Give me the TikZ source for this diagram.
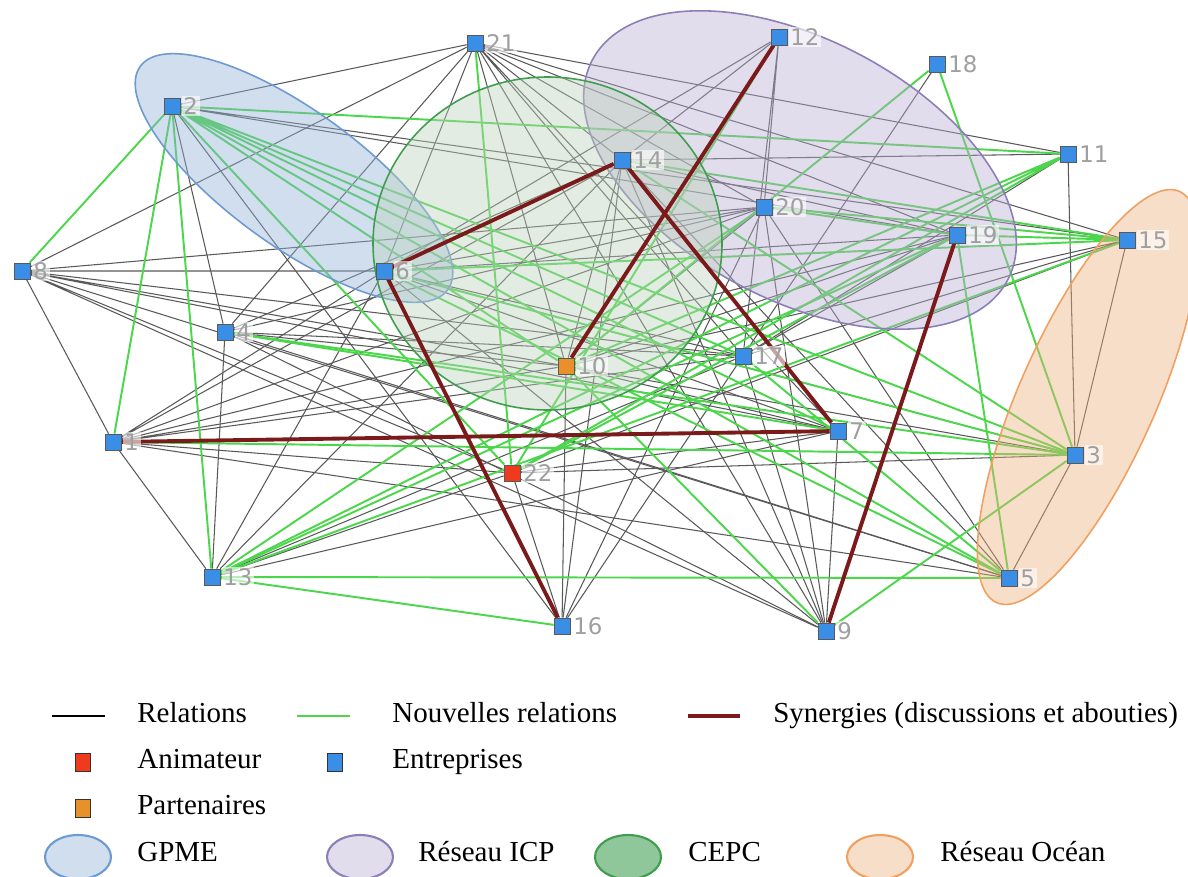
\documentclass[tikz,border=0pt]{standalone}
\usepackage{fontspec}
\setmainfont{Liberation Serif}
\newfontfamily\numfont{DejaVu Sans}

\definecolor{entblue}{HTML}{3A8EE6}
\definecolor{animred}{HTML}{F03A1E}
\definecolor{partorange}{HTML}{E8902A}
\definecolor{relgreen}{HTML}{4BD64B}
\definecolor{synred}{HTML}{7B1A1A}
\definecolor{gpmefill}{HTML}{91B1D7}
\definecolor{gpmeline}{HTML}{6D9BD1}
\definecolor{icpfill}{HTML}{B9ADD1}
\definecolor{icpline}{HTML}{8C7FB5}
\definecolor{cepcfill}{HTML}{BBD1B9}
\definecolor{cepcline}{HTML}{3E9E4E}
\definecolor{oceanfill}{HTML}{EDB17B}
\definecolor{oceanline}{HTML}{F0A060}
\definecolor{cepcleg}{HTML}{8FC79B}

\pgfdeclarelayer{edges}
\pgfdeclarelayer{zones}
\pgfdeclarelayer{syns}
\pgfsetlayers{edges,zones,syns,main}

\begin{document}
\begin{tikzpicture}[
  label distance=0.5pt,
  firm/.style={rectangle, draw=black!65, fill=#1, minimum size=0.32cm,
    inner sep=0pt},
  firm/.default=entblue,
  num/.style={font=\numfont\fontsize{13}{13}\selectfont, text=gray!75,
    fill=white, fill opacity=0.6, text opacity=1, inner sep=1pt},
  rel/.style={draw=black!65, line width=0.6pt},
  newrel/.style={draw=relgreen, line width=1.1pt},
  syn/.style={draw=synred, line width=2.2pt},
  zone/.style={draw=#1line, fill=#1fill, fill opacity=0.42, line width=0.9pt},
  legtext/.style={anchor=west, inner sep=0pt, text height=11pt, text depth=4pt,
    font=\fontsize{16.5}{19}\selectfont},
  legbox/.style={rectangle, draw=black!80, fill=#1, minimum width=0.3cm,
    minimum height=0.36cm, inner sep=0pt}
]
\useasboundingbox (0,0) rectangle (23.76,-17.52);

% Acteurs
\node[firm, label={[num]right:21}] (n21) at (9.50,-0.86) {};
\node[firm, label={[num]right:12}] (n12) at (15.58,-0.74) {};
\node[firm, label={[num]right:18}] (n18) at (18.74,-1.28) {};
\node[firm, label={[num]right:2}] (n2) at (3.44,-2.12) {};
\node[firm, label={[num]right:14}] (n14) at (12.44,-3.20) {};
\node[firm, label={[num]right:11}] (n11) at (21.36,-3.08) {};
\node[firm, label={[num]right:20}] (n20) at (15.28,-4.14) {};
\node[firm, label={[num]right:19}] (n19) at (19.14,-4.70) {};
\node[firm, label={[num]right:15}] (n15) at (22.54,-4.80) {};
\node[firm, label={[num]right:8}] (n8) at (0.44,-5.42) {};
\node[firm, label={[num]right:6}] (n6) at (7.68,-5.42) {};
\node[firm, label={[num]right:4}] (n4) at (4.50,-6.64) {};
\node[firm=partorange, label={[num]right:10}] (n10) at (11.32,-7.32) {};
\node[firm, label={[num]right:17}] (n17) at (14.86,-7.12) {};
\node[firm, label={[num]right:1}] (n1) at (2.26,-8.84) {};
\node[firm, label={[num]right:7}] (n7) at (16.76,-8.62) {};
\node[firm, label={[num]right:3}] (n3) at (21.50,-9.10) {};
\node[firm=animred, label={[num]right:22}] (n22) at (10.24,-9.46) {};
\node[firm, label={[num]right:13}] (n13) at (4.24,-11.54) {};
\node[firm, label={[num]right:5}] (n5) at (20.18,-11.56) {};
\node[firm, label={[num]right:16}] (n16) at (11.24,-12.52) {};
\node[firm, label={[num]right:9}] (n9) at (16.52,-12.62) {};

\begin{pgfonlayer}{edges}
% Relations
\draw[rel] (n21) -- (n2) (n21) -- (n8) (n21) -- (n4) (n21) -- (n6) (n21) -- (n14)
  (n21) -- (n20) (n21) -- (n19) (n21) -- (n15) (n21) -- (n11) (n21) -- (n17)
  (n21) -- (n10) (n21) -- (n7) (n21) -- (n9);
\draw[rel] (n2) -- (n19) (n2) -- (n15) (n2) -- (n4) (n2) -- (n16);
\draw[rel] (n8) -- (n1) (n8) -- (n6) (n8) -- (n10) (n8) -- (n17) (n8) -- (n7)
  (n8) -- (n22) (n8) -- (n3) (n8) -- (n9) (n8) -- (n5) (n8) -- (n20);
\draw[rel] (n1) -- (n13) (n1) -- (n6) (n1) -- (n14) (n1) -- (n20) (n1) -- (n19)
  (n1) -- (n10) (n1) -- (n17) (n1) -- (n22) (n1) -- (n5);
\draw[rel] (n4) -- (n13) (n4) -- (n14) (n4) -- (n20) (n4) -- (n10) (n4) -- (n17)
  (n4) -- (n9) (n4) -- (n5);
\draw[rel] (n13) -- (n6) (n13) -- (n14) (n13) -- (n17) (n13) -- (n7) (n13) -- (n22);
\draw[rel] (n6) -- (n12) (n6) -- (n20) (n6) -- (n19) (n6) -- (n17) (n6) -- (n7)
  (n6) -- (n9) (n6) -- (n3);
\draw[rel] (n14) -- (n12) (n14) -- (n11) (n14) -- (n10) (n14) -- (n9) (n14) -- (n5)
  (n14) -- (n16) (n14) -- (n19);
\draw[rel] (n12) -- (n20) (n12) -- (n17) (n18) -- (n17);
\draw[rel] (n20) -- (n9) (n20) -- (n5) (n20) -- (n16) (n20) -- (n10);
\draw[rel] (n19) -- (n10) (n19) -- (n17) (n19) -- (n22);
\draw[rel] (n11) -- (n3) (n11) -- (n17);
\draw[rel] (n15) -- (n3) (n15) -- (n17) (n15) -- (n10) (n15) -- (n22);
\draw[rel] (n3) -- (n5) (n3) -- (n22);
\draw[rel] (n9) -- (n7) (n9) -- (n17) (n16) -- (n10) (n16) -- (n22) (n16) -- (n17);
\draw[rel] (n10) -- (n7) (n22) -- (n7);

% Nouvelles relations
\draw[newrel] (n2) -- (n8) (n2) -- (n1) (n2) -- (n13) (n2) -- (n11) (n2) -- (n10)
  (n2) -- (n17) (n2) -- (n7) (n2) -- (n3) (n2) -- (n5) (n2) -- (n22);
\draw[newrel] (n21) -- (n22) (n12) -- (n22) (n18) -- (n3) (n18) -- (n10);
\draw[newrel] (n11) -- (n10) (n11) -- (n22) (n11) -- (n13);
\draw[newrel] (n15) -- (n19) (n15) -- (n20) (n15) -- (n14) (n15) -- (n6) (n15) -- (n13);
\draw[newrel] (n3) -- (n1) (n3) -- (n4) (n3) -- (n6) (n3) -- (n14) (n3) -- (n9);
\draw[newrel] (n13) -- (n16) (n13) -- (n5) (n13) -- (n20) (n13) -- (n19);
\draw[newrel] (n19) -- (n20) (n19) -- (n22) (n19) -- (n5);
\draw[newrel] (n5) -- (n6) (n9) -- (n10) (n4) -- (n7) (n17) -- (n5);
\end{pgfonlayer}

% Synergies
\begin{pgfonlayer}{syns}
\draw[syn] (n6) -- (n14) (n6) -- (n16) (n10) -- (n12) (n14) -- (n7) (n1) -- (n7)
  (n19) -- (n9);
\end{pgfonlayer}

% Reseaux
\begin{pgfonlayer}{zones}
\draw[zone=gpme, rotate around={-36:(5.88,-3.56)}] (5.88,-3.56) ellipse (3.8cm and 1.35cm);
\draw[zone=icp, rotate around={-28:(16.0,-3.4)}] (16.0,-3.4) ellipse (4.7cm and 2.6cm);
\draw[zone=cepc] (10.95,-4.87) ellipse (3.49cm and 3.33cm);
\draw[zone=ocean, rotate around={66:(21.76,-7.94)}] (21.76,-7.94) ellipse (4.5cm and 1.36cm);
\end{pgfonlayer}

% Legende
\coordinate (la) at (1.04,-14.32);
\coordinate (lb) at (2.10,-14.32);
\coordinate (lc) at (5.94,-14.32);
\coordinate (ld) at (7.00,-14.32);
\coordinate (le) at (13.76,-14.32);
\coordinate (lf) at (14.80,-14.32);
\draw[rel, draw=black, line width=1pt] (la) -- (lb);
\draw[newrel, line width=1.6pt] (lc) -- (ld);
\draw[syn, line width=1.8pt] (le) -- (lf);
\node[legtext] (trel) at (2.74,-14.32) {Relations};
\node[legtext] (tnew) at (7.84,-14.32) {Nouvelles relations};
\node[legtext] (tsyn) at (15.46,-14.32) {Synergies (discussions et abouties)};

\node[legbox=animred] (banim) at (1.66,-15.24) {};
\node[legtext] (tanim) at (2.74,-15.24) {Animateur};
\node[legbox=entblue] (bent) at (6.70,-15.24) {};
\node[legtext] (tent) at (7.84,-15.24) {Entreprises};
\node[legbox=partorange] (bpart) at (1.66,-16.16) {};
\node[legtext] (tpart) at (2.74,-16.16) {Partenaires};

\draw[zone=gpme, line width=1.2pt] (1.56,-17.14) ellipse (0.66cm and 0.44cm);
\node[legtext] (tgpme) at (2.74,-17.10) {GPME};
\draw[zone=icp, line width=1.2pt] (7.20,-17.14) ellipse (0.66cm and 0.44cm);
\node[legtext] (ticp) at (8.36,-17.10) {Réseau ICP};
\draw[zone=cepc, line width=1.2pt, fill=cepcleg, fill opacity=1] (12.56,-17.14) ellipse (0.66cm and 0.44cm);
\node[legtext] (tcepc) at (13.76,-17.10) {CEPC};
\draw[zone=ocean, line width=1.2pt] (17.60,-17.14) ellipse (0.66cm and 0.44cm);
\node[legtext] (tocean) at (18.80,-17.10) {Réseau Océan};

\end{tikzpicture}
\end{document}
